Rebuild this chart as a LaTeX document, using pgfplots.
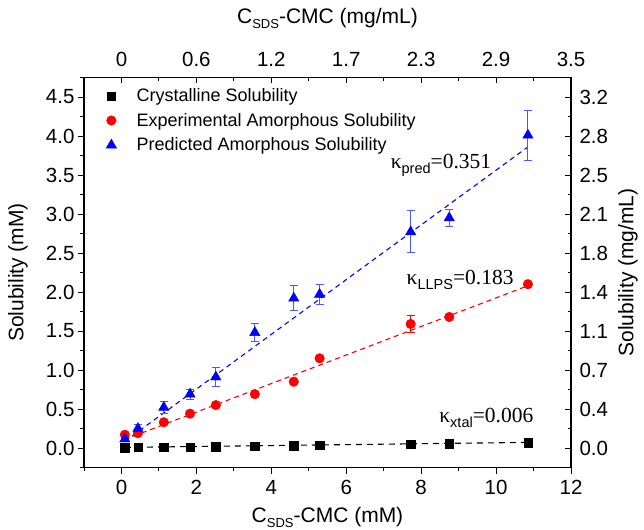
\documentclass[border=0pt]{standalone}
\usepackage{fontspec}
\setmainfont{Liberation Sans}
\newfontfamily\serif{Liberation Serif}
\usepackage{pgfplots}
\usepackage{pgfplotstable}
\pgfplotsset{compat=1.18}

% lowered subscript in sans
\newcommand{\lab}[2][13]{\raisebox{-0.45ex}{\fontsize{#1}{#1}\selectfont #2}}
% fitted slope annotation
\newcommand{\kap}[2]{{\serif κ}\lab[14.5]{#1}{\serif =#2}}

\pgfplotstableread{
x y
0.09 0.005
0.44 0.007
1.13 0.010
1.83 0.013
2.52 0.018
3.56 0.025
4.60 0.032
5.29 0.037
7.72 0.050
8.75 0.055
10.85 0.068
}\xtal

\pgfplotstableread{
x y e
0.09 0.17 0.03
0.44 0.19 0.02
1.13 0.33 0.02
1.83 0.44 0.02
2.52 0.55 0.02
3.56 0.69 0.02
4.60 0.85 0.02
5.29 1.15 0.02
7.72 1.59 0.11
8.75 1.68 0.02
10.85 2.10 0.02
}\llps

\pgfplotstableread{
x y e
0.09 0.115 0.03
0.44 0.25 0.05
1.13 0.52 0.08
1.83 0.69 0.065
2.52 0.91 0.12
3.56 1.48 0.11
4.60 1.92 0.16
5.29 1.97 0.13
7.72 2.77 0.27
8.75 2.95 0.11
10.85 4.01 0.32
}\pred

\definecolor{ebblue}{RGB}{70,90,255}

\begin{document}
\begin{tikzpicture}
\pgfplotsset{
  common/.style={
    scale only axis, width=487pt, height=390pt,
    xmin=-1, xmax=12, ymin=-0.25, ymax=4.75,
    axis line style={line width=1.3pt},
    major tick length=6pt, minor tick length=3.5pt,
    every tick/.style={black, line width=0.9pt},
    xtick={0,2,...,12}, minor xtick={-1,1,...,11},
    ytick={0,0.5,...,4.5}, minor ytick={-0.25,0.25,...,4.75},
    tick label style={font=\fontsize{20.5}{20.5}\selectfont},
    /pgf/number format/assume math mode=true,
    label style={font=\fontsize{21}{21}\selectfont},
  },
}
% top and right axes (mg/mL)
\begin{axis}[
  common,
  axis x line*=top, axis y line*=right,
  tick align=inside,
  xticklabels={0,0.6,1.2,1.7,2.3,2.9,3.5},
  yticklabels={0.0,0.4,0.7,1.1,1.4,1.8,2.1,2.5,2.8,3.2},
  xticklabel style={yshift=7pt},
  yticklabel style={xshift=5pt},
  xlabel={C\lab{SDS}-CMC (mg/mL)},
  ylabel={Solubility (mg/mL)},
  xlabel style={at={([yshift=59pt]axis description cs:0.5,1)}, anchor=center},
  ylabel style={at={([xshift=57pt]axis description cs:1,0.5)}, anchor=center},
]
\addplot[draw=none] coordinates {(0,0)};
\end{axis}
% bottom and left axes (mM) with data
\begin{axis}[
  common, name=main,
  axis x line*=bottom, axis y line*=left,
  tick align=outside,
  xticklabel style={yshift=-3pt},
  yticklabel style={/pgf/number format/.cd, fixed, fixed zerofill, precision=1},
  xlabel={C\lab{SDS}-CMC (mM)},
  ylabel={Solubility (mM)},
  xlabel style={at={([yshift=-50pt]axis description cs:0.5,0)}, anchor=center},
  ylabel style={at={([xshift=-66pt]axis description cs:0,0.5)}, anchor=center},
  legend style={draw=none, fill=none, at={(axis description cs:0,1)}, anchor=north west,
    xshift=19pt, yshift=-7pt, font=\fontsize{18}{18}\selectfont, row sep=6pt, column sep=18pt},
  legend cell align=left,
]
% linear fits
\addplot[black, line width=1.1pt, dash pattern=on 6pt off 5pt, forget plot]
  coordinates {(0.09,0.008) (10.85,0.072)};
\addplot[red, line width=1.1pt, dash pattern=on 5pt off 4pt, forget plot]
  coordinates {(0.09,0.11) (10.85,2.08)};
\addplot[blue, line width=1.1pt, dash pattern=on 5pt off 4pt, forget plot]
  coordinates {(0.09,0.085) (10.85,3.86)};
% measurements
\addplot[only marks, mark=square*, mark size=4.2pt, black] table {\xtal};
\addlegendentry{Crystalline Solubility}
\addplot[only marks, mark=*, mark size=4.8pt, red,
  error bars/.cd, y dir=both, y explicit,
  error bar style={red, line width=1pt},
  error mark options={rotate=90, mark size=4pt, red, line width=1pt}]
  table[y error=e] {\llps};
\addlegendentry{Experimental Amorphous Solubility}
\addplot[only marks, mark=triangle*, mark size=6pt, blue,
  error bars/.cd, y dir=both, y explicit,
  error bar style={ebblue, line width=1pt},
  error mark options={rotate=90, mark size=4pt, ebblue, line width=1pt}]
  table[y error=e] {\pred};
\addlegendentry{Predicted Amorphous Solubility}
% slope annotations
\node[font=\fontsize{21.5}{21.5}\selectfont] at (axis cs:8.53,3.62) {\kap{pred}{0.351}};
\node[font=\fontsize{21.5}{21.5}\selectfont] at (axis cs:9.04,2.15) {\kap{LLPS}{0.183}};
\node[font=\fontsize{21.5}{21.5}\selectfont] at (axis cs:9.74,0.39) {\kap{xtal}{0.006}};
\end{axis}
\pgfresetboundingbox
\path ([shift={(-84pt,-62.3pt)}]main.south west) rectangle ([shift={(73pt,77.5pt)}]main.north east);
\end{tikzpicture}
\end{document}
